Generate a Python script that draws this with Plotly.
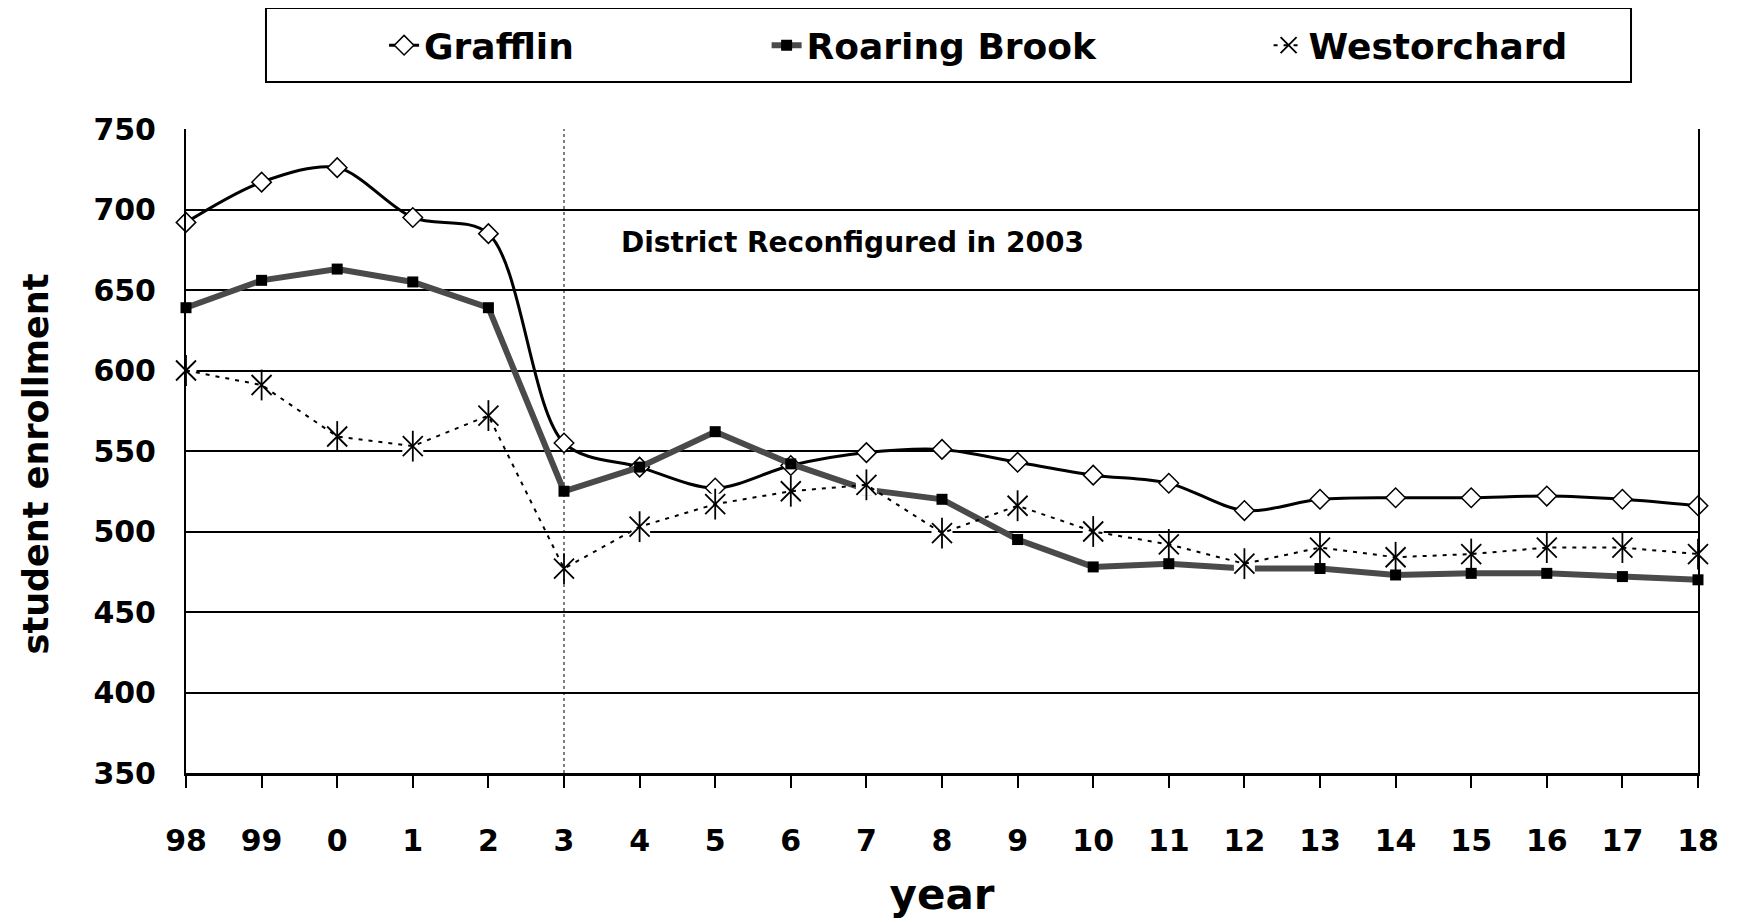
import plotly.graph_objects as go

years = ["98", "99", "0", "1", "2", "3", "4", "5", "6", "7", "8", "9",
         "10", "11", "12", "13", "14", "15", "16", "17", "18"]
grafflin = [692, 717, 726, 695, 685, 555, 540, 527, 541, 549, 551, 543,
            535, 530, 513, 520, 521, 521, 522, 520, 516]
roaring_brook = [639, 656, 663, 655, 639, 525, 540, 562, 542, 526, 520, 495,
                 478, 480, 477, 477, 473, 474, 474, 472, 470]
westorchard = [600, 591, 559, 553, 572, 477, 503, 517, 525, 529, 499, 516,
               500, 492, 480, 490, 484, 486, 490, 490, 486]
y_ticks = [350, 400, 450, 500, 550, 600, 650, 700, 750]
reconfig_year = "3"
annotation_text = "District Reconfigured in 2003"
y_title = "student enrollment"
x_title = "year"

xi = list(range(len(years)))
FONT = "Comic Sans MS, DejaVu Sans, sans-serif"

fig = go.Figure()

fig.add_trace(go.Scatter(
    x=xi, y=grafflin, name="Grafflin", mode="lines+markers",
    line=dict(color="black", width=3, shape="spline", smoothing=0.9),
    marker=dict(symbol="diamond", size=15, color="white",
                line=dict(color="black", width=1.5)),
    cliponaxis=False, legend="legend"))

fig.add_trace(go.Scatter(
    x=xi, y=roaring_brook, name="Roaring Brook", mode="lines+markers",
    line=dict(color="#4a4a4a", width=6),
    marker=dict(symbol="square", size=11, color="black"),
    cliponaxis=False, legend="legend2"))

# white halo behind the asterisk markers
fig.add_trace(go.Scatter(
    x=xi, y=westorchard, mode="markers", showlegend=False, hoverinfo="skip",
    marker=dict(symbol="square", size=21, color="white"),
    cliponaxis=False))

fig.add_trace(go.Scatter(
    x=xi, y=westorchard, name="Westorchard", mode="lines+markers",
    line=dict(color="black", width=2, dash="4px,6px"),
    marker=dict(symbol="x-thin-open", size=20, color="black",
                line=dict(color="black", width=1.8)),
    cliponaxis=False, legend="legend3"))

fig.add_trace(go.Scatter(
    x=xi, y=westorchard, mode="markers", showlegend=False, hoverinfo="skip",
    marker=dict(symbol="line-ns-open", size=22, color="black",
                line=dict(color="black", width=1.8)),
    cliponaxis=False))

rx = years.index(reconfig_year)
fig.add_shape(type="line", xref="x", yref="y", x0=rx, x1=rx,
              y0=y_ticks[0], y1=y_ticks[-1],
              line=dict(color="black", width=1, dash="dot"), layer="below")

# legend frame
fig.add_shape(type="rect", xref="paper", yref="paper",
              x0=0.0529, x1=0.9557, y0=1.073, y1=1.188,
              line=dict(color="black", width=2), fillcolor="white", layer="below")

fig.add_annotation(text=annotation_text, xref="paper", yref="paper",
                   x=0.441, y=0.823, xanchor="center", yanchor="middle",
                   showarrow=False,
                   font=dict(family=FONT, size=28, color="black", weight="bold"))

# y-axis title
fig.add_annotation(text=y_title, xref="paper", yref="paper",
                   x=-0.0995, y=0.48, xanchor="center", yanchor="middle",
                   textangle=-90, showarrow=False,
                   font=dict(family=FONT, size=35, color="black", weight="bold"))

leg_common = dict(orientation="h", yanchor="middle", y=1.13, xanchor="left",
                  bgcolor="rgba(0,0,0,0)", borderwidth=0,
                  font=dict(family=FONT, size=36, color="black", weight="bold"))

# page has an 8px body margin, so the figure is drawn 8px smaller and offset
fig.update_layout(
    width=1732, height=916,
    margin=dict(l=178, r=42, t=121, b=151, autoexpand=False),
    paper_bgcolor="white", plot_bgcolor="white",
    font=dict(family=FONT, color="black"),
    legend=dict(x=0.131, **leg_common),
    legend2=dict(x=0.384, **leg_common),
    legend3=dict(x=0.716, **leg_common),
    xaxis=dict(
        range=[0, len(years) - 1], tickmode="array", tickvals=xi, ticktext=years,
        showgrid=False, zeroline=False, showline=True, linecolor="black", linewidth=3,
        ticks="outside", ticklen=12, tickwidth=1.5, tickcolor="black",
        ticklabelstandoff=27,
        tickfont=dict(family=FONT, size=30, color="black", weight="bold"),
        title=dict(text=x_title, standoff=23,
                   font=dict(family=FONT, size=42, color="black", weight="bold"))),
    yaxis=dict(
        range=[y_ticks[0], y_ticks[-1]], tickmode="array", tickvals=y_ticks,
        showgrid=True, gridcolor="black", gridwidth=1.5, zeroline=False,
        showline=True, linecolor="black", linewidth=2, mirror=True,
        ticks="", ticklabelstandoff=22,
        tickfont=dict(family=FONT, size=30, color="black", weight="bold")),
)

fig.write_html("out.html")
